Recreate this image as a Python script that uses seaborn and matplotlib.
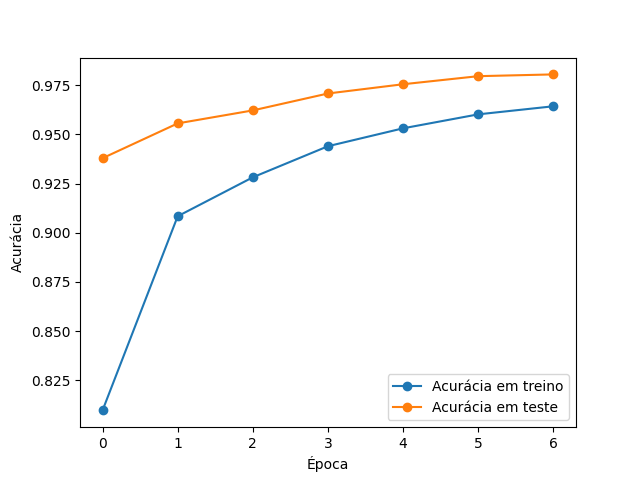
import matplotlib
matplotlib.use("Agg")
import matplotlib.pyplot as plt
import seaborn as sns
import pandas as pd

epocas = [0, 1, 2, 3, 4, 5, 6]
acc_treino = [0.8097, 0.9084, 0.9282, 0.9440, 0.9531, 0.9602, 0.9643]
acc_teste = [0.9379, 0.9556, 0.9622, 0.9708, 0.9755, 0.9796, 0.9805]

df = pd.DataFrame({"epoca": epocas, "treino": acc_treino, "teste": acc_teste})

fig, ax = plt.subplots(figsize=(6.4, 4.8), dpi=100)
sns.lineplot(data=df, x="epoca", y="treino", marker="o", color="C0",
             markeredgecolor="C0", markeredgewidth=1, markersize=6,
             label="Acurácia em treino", ax=ax)
sns.lineplot(data=df, x="epoca", y="teste", marker="o", color="C1",
             markeredgecolor="C1", markeredgewidth=1, markersize=6,
             label="Acurácia em teste", ax=ax)

ax.set_xlabel("Época")
ax.set_ylabel("Acurácia")
ax.legend(loc="lower right")

plt.savefig("out.png", dpi=100)
